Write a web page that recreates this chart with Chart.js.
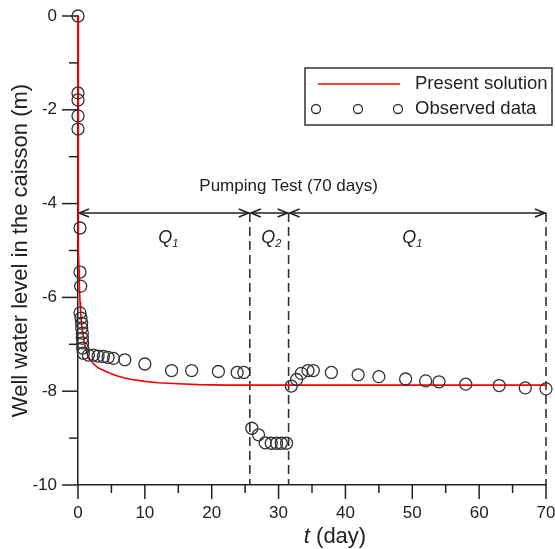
<!DOCTYPE html>
<html>
<head>
<meta charset="utf-8">
<script src="https://cdn.jsdelivr.net/npm/chart.js@4/dist/chart.umd.min.js"></script>
<style>
  html, body { margin: 0; padding: 0; background: #fff; }
  #wrap { width: 555px; height: 549px; position: relative; }
</style>
</head>
<body>
<div id="wrap"><canvas id="chart"></canvas></div>
<script>
// Observed well water level (m) vs time (day)
const obsT = [0, 0, 0, 0, 0, 0.3, 0.3, 0.4, 0.3, 0.45, 0.55, 0.55, 0.65, 0.65, 0.7, 0.7, 0.8,
    1.55, 2.3, 3.0, 3.8, 4.5, 5.3, 7, 10, 14, 17, 21, 23.8, 24.8,
    26.0, 27.0, 28.0, 28.9, 29.7, 30.4, 31.2,
    31.9, 32.7, 33.4, 34.4, 35.2, 37.9, 41.9, 45, 49, 52, 54, 58, 63, 66.9, 70];
const obsLevel = [0, -1.64, -1.79, -2.13, -2.41, -4.52, -5.46, -5.76, -6.33, -6.44, -6.55, -6.65, -6.76, -6.87, -6.97, -7.08, -7.19,
    -7.23, -7.23, -7.25, -7.26, -7.28, -7.30, -7.33, -7.42, -7.56, -7.56, -7.58, -7.6, -7.6,
    -8.79, -8.93, -9.10, -9.11, -9.11, -9.11, -9.11,
    -7.89, -7.75, -7.62, -7.56, -7.56, -7.60, -7.65, -7.69, -7.74, -7.78, -7.80, -7.85, -7.88, -7.93, -7.95];

// Present solution curve
const solT = [0, 0.02, 0.05, 0.1, 0.15, 0.2, 0.3, 0.4, 0.55, 0.7, 1, 1.3, 1.7, 2.2, 3, 4, 5, 6, 7, 8, 10, 12, 15, 18, 22, 26, 30, 40, 50, 60, 70];
const solLevel = [0, -3.0, -4.3, -5.0, -5.4, -5.7, -6.1, -6.33, -6.6, -6.75, -7.0, -7.17, -7.3, -7.4, -7.5, -7.57, -7.63, -7.68, -7.72, -7.75, -7.79, -7.82, -7.84, -7.86, -7.87, -7.87, -7.87, -7.87, -7.87, -7.87, -7.87];

// Pumping stages (day)
const stageBounds = [0, 25.7, 31.5, 70];
const stageLabels = ['1', '2', '1'];
const stageLabelT = [13.5, 28.9, 50];
const arrowLevel = -4.2;

const xTickMajor = 10, xTickMinor = 5;
const yTickMajor = 2, yTickMinor = 1;

const ink = '#222';
const font = 'Arial, "Liberation Sans", sans-serif';

function toPoints(xs, ys) {
    return xs.map((x, i) => ({ x: x, y: ys[i] }));
}

function noAutoPadding(scale) {
    scale.paddingLeft = 0;
    scale.paddingRight = 0;
    scale.paddingTop = 0;
    scale.paddingBottom = 0;
}

function arrowHead(ctx, x, y, dir) {
    ctx.beginPath();
    ctx.moveTo(x - dir * 10, y - 4);
    ctx.lineTo(x, y);
    ctx.lineTo(x - dir * 10, y + 4);
    ctx.stroke();
}

const decorPlugin = {
    id: 'decor',
    beforeDatasetsDraw(chart) {
        const ctx = chart.ctx;
        const xs = chart.scales.x, ys = chart.scales.y;
        const area = chart.chartArea;
        const ay = ys.getPixelForValue(arrowLevel);

        // dashed stage boundaries
        ctx.save();
        ctx.strokeStyle = '#333';
        ctx.lineWidth = 1.6;
        ctx.setLineDash([9, 5]);
        for (let i = 1; i < stageBounds.length; i++) {
            const px = xs.getPixelForValue(stageBounds[i]);
            ctx.beginPath();
            ctx.moveTo(px, ay);
            ctx.lineTo(px, area.bottom);
            ctx.stroke();
        }
        ctx.restore();

        // double arrows
        ctx.save();
        ctx.strokeStyle = ink;
        ctx.lineWidth = 1.5;
        for (let i = 0; i < stageBounds.length - 1; i++) {
            const a = xs.getPixelForValue(stageBounds[i]) + 1;
            const b = xs.getPixelForValue(stageBounds[i + 1]) - 1;
            ctx.beginPath();
            ctx.moveTo(a, ay);
            ctx.lineTo(b, ay);
            ctx.stroke();
            arrowHead(ctx, a, ay, -1);
            arrowHead(ctx, b, ay, 1);
        }
        ctx.restore();

        // texts
        ctx.save();
        ctx.fillStyle = ink;
        ctx.textBaseline = 'middle';
        ctx.textAlign = 'center';
        ctx.font = '17px ' + font;
        ctx.fillText('Pumping Test (70 days)', xs.getPixelForValue(31.5), ay - 27);
        for (let i = 0; i < stageLabels.length; i++) {
            const px = xs.getPixelForValue(stageLabelT[i]);
            const py = ay + 25;
            ctx.font = 'italic 18px ' + font;
            const wq = ctx.measureText('Q').width;
            ctx.textAlign = 'left';
            ctx.fillText('Q', px - wq / 2 - 3, py);
            ctx.font = 'italic 11px ' + font;
            ctx.fillText(stageLabels[i], px + wq / 2 - 3, py + 6);
        }
        ctx.restore();
    },
    afterDraw(chart) {
        const ctx = chart.ctx;
        const xs = chart.scales.x, ys = chart.scales.y;
        const area = chart.chartArea;

        // tick marks
        ctx.save();
        ctx.strokeStyle = ink;
        ctx.lineWidth = 1.5;
        for (let v = ys.min; v <= ys.max; v += yTickMinor) {
            const py = ys.getPixelForValue(v);
            const len = (v % yTickMajor === 0) ? 16 : 9;
            ctx.beginPath();
            ctx.moveTo(area.left - len, py);
            ctx.lineTo(area.left, py);
            ctx.stroke();
        }
        for (let v = xs.min; v <= xs.max; v += xTickMinor) {
            const px = xs.getPixelForValue(v);
            const len = (v % xTickMajor === 0) ? 14 : 8;
            ctx.beginPath();
            ctx.moveTo(px, area.bottom);
            ctx.lineTo(px, area.bottom + len);
            ctx.stroke();
        }
        ctx.restore();

        // axis titles
        ctx.save();
        ctx.fillStyle = ink;
        ctx.textBaseline = 'middle';
        ctx.font = '22px ' + font;
        ctx.save();
        ctx.translate(21, (area.top + area.bottom) / 2);
        ctx.rotate(-Math.PI / 2);
        ctx.textAlign = 'center';
        ctx.fillText('Well water level in the caisson (m)', 0, 0);
        ctx.restore();
        ctx.font = 'italic 22px ' + font;
        const wt = ctx.measureText('t').width;
        ctx.font = '22px ' + font;
        const wr = ctx.measureText(' (day)').width;
        const x0 = 335 - (wt + wr) / 2;
        ctx.textAlign = 'left';
        ctx.font = 'italic 22px ' + font;
        ctx.fillText('t', x0, 537);
        ctx.font = '22px ' + font;
        ctx.fillText(' (day)', x0 + wt, 537);
        ctx.restore();

        // legend
        ctx.save();
        ctx.strokeStyle = '#333';
        ctx.lineWidth = 1.5;
        ctx.strokeRect(305, 68, 247, 57);
        ctx.strokeStyle = '#ff0000';
        ctx.beginPath();
        ctx.moveTo(318, 84);
        ctx.lineTo(400, 84);
        ctx.stroke();
        ctx.strokeStyle = '#333';
        ctx.lineWidth = 1.3;
        [316, 358, 398].forEach(cx => {
            ctx.beginPath();
            ctx.arc(cx, 109, 4.5, 0, Math.PI * 2);
            ctx.stroke();
        });
        ctx.fillStyle = ink;
        ctx.font = '18.5px ' + font;
        ctx.textBaseline = 'middle';
        ctx.fillText('Present solution', 415, 84);
        ctx.fillText('Observed data', 415, 109);
        ctx.restore();
    }
};

new Chart(document.getElementById('chart').getContext('2d'), {
    type: 'scatter',
    data: {
        datasets: [{
            label: 'Present solution',
            data: toPoints(solT, solLevel),
            showLine: true,
            borderColor: '#ff0000',
            borderWidth: 1.6,
            pointRadius: 0,
            tension: 0,
            clip: false,
            order: 2
        }, {
            label: 'Observed data',
            data: toPoints(obsT, obsLevel),
            showLine: false,
            pointRadius: 6,
            pointBorderWidth: 1.3,
            pointBorderColor: '#333',
            pointBackgroundColor: 'rgba(0,0,0,0)',
            clip: false,
            order: 1
        }]
    },
    options: {
        responsive: true,
        maintainAspectRatio: false,
        animation: false,
        layout: { padding: { top: 16, right: 9, left: 0, bottom: 0 } },
        plugins: {
            legend: { display: false },
            tooltip: { enabled: false }
        },
        scales: {
            x: {
                type: 'linear',
                min: 0,
                max: 70,
                afterFit: (scale) => { scale.height = 64; noAutoPadding(scale); },
                grid: { display: false, drawTicks: false },
                border: { display: true, color: ink, width: 1.5 },
                ticks: {
                    stepSize: xTickMajor,
                    padding: 18,
                    color: ink,
                    font: { family: font, size: 17 }
                }
            },
            y: {
                min: -10,
                max: 0,
                afterFit: (scale) => { scale.width = 78; noAutoPadding(scale); },
                grid: { display: false, drawTicks: false },
                border: { display: true, color: ink, width: 1.5 },
                ticks: {
                    stepSize: yTickMajor,
                    padding: 21,
                    color: ink,
                    font: { family: font, size: 17 }
                }
            }
        }
    },
    plugins: [decorPlugin]
});
</script>
</body>
</html>
